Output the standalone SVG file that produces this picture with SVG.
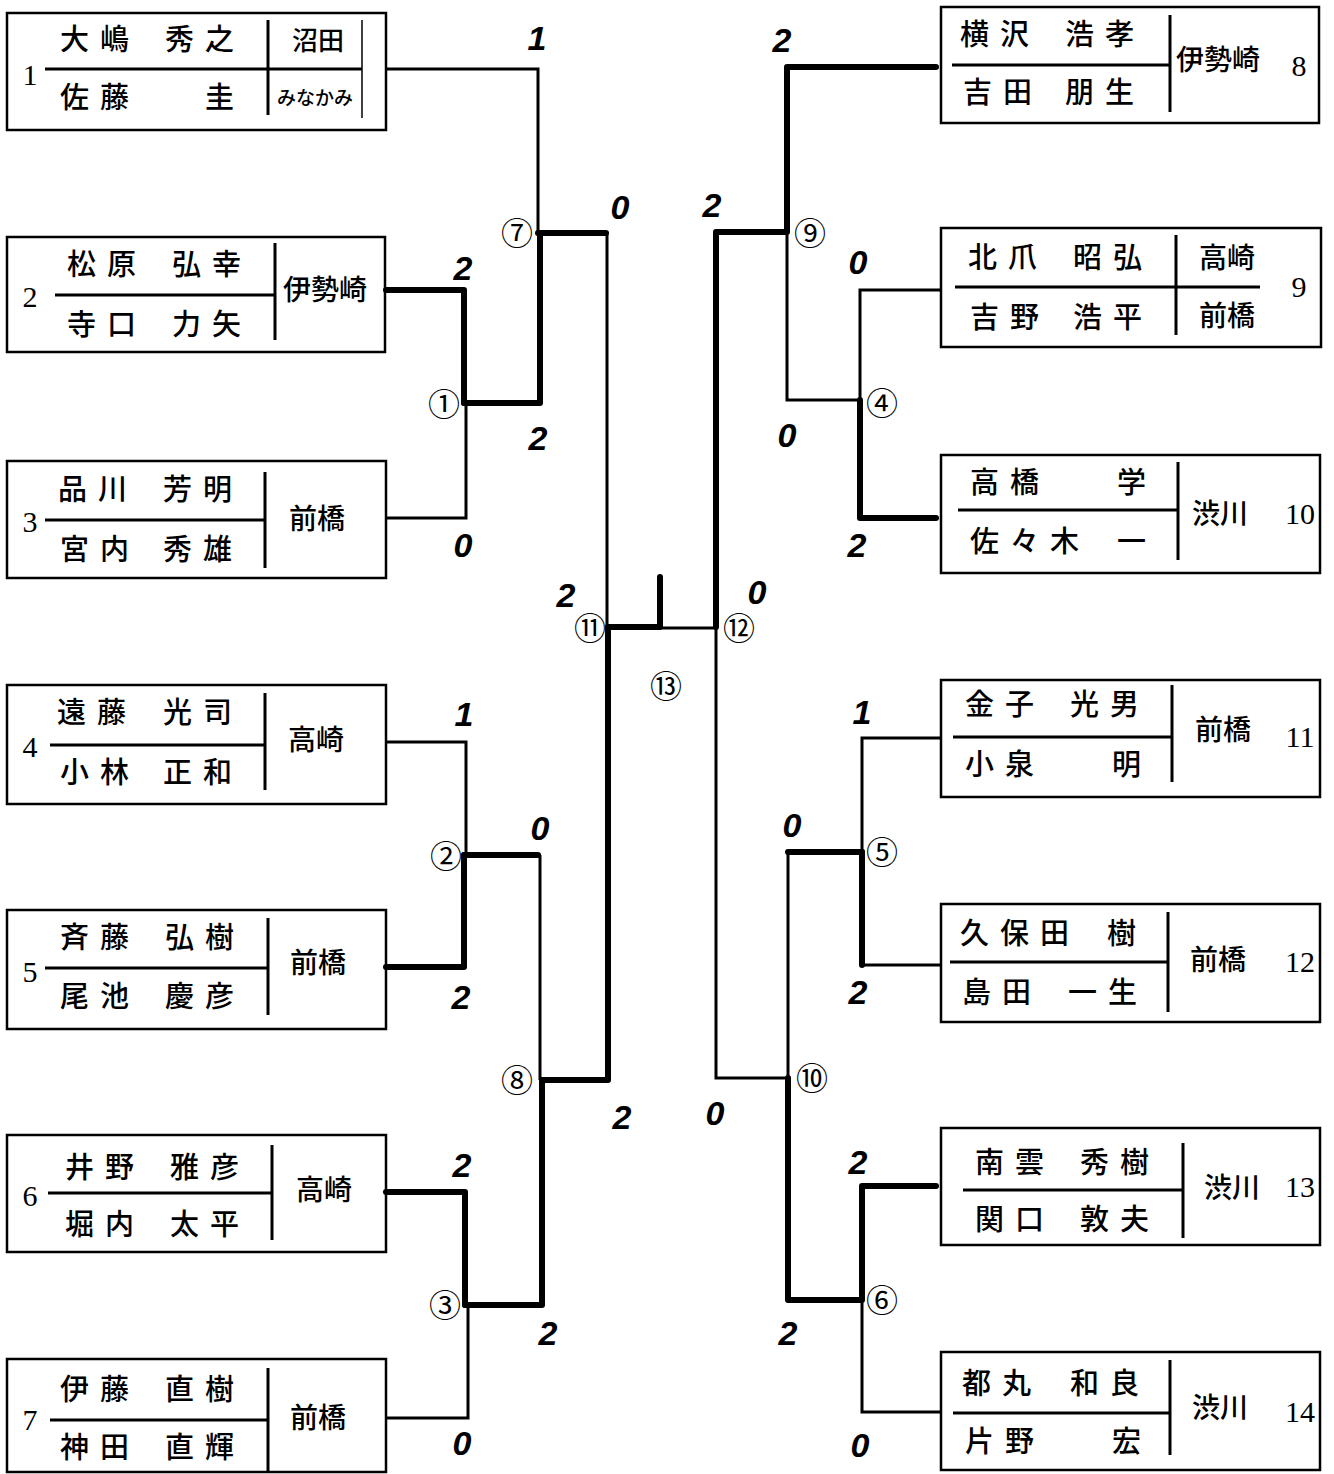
<svg xmlns="http://www.w3.org/2000/svg" width="1334" height="1474" viewBox="0 0 1334 1474">
<style>
.bx{fill:none;stroke:#000;stroke-width:2.5}
.dv{stroke:#000;stroke-width:3;fill:none}
.th{stroke:#000;stroke-width:3;fill:none}
.tk{stroke:#000;stroke-width:6;fill:none;stroke-linecap:round;stroke-linejoin:round}
.nm{font-family:"Noto Sans CJK JP","Noto Sans CJK SC",sans-serif;font-size:29px;font-weight:500;letter-spacing:11px}
.cl{font-family:"Noto Sans CJK JP","Noto Sans CJK SC",sans-serif;font-size:28px;font-weight:500;text-anchor:middle}
.no{font-family:"Liberation Serif",serif;font-size:30px;text-anchor:middle}
.sc{font-family:"Liberation Sans",sans-serif;font-weight:bold;font-style:italic;font-size:34px;text-anchor:middle}
.cn{font-family:"Noto Sans CJK JP","Noto Sans CJK SC",sans-serif;font-size:32px;text-anchor:middle}
</style>
<rect width="1334" height="1474" fill="#fff"/>

<g id="team1">
<rect class="bx" x="7" y="13" width="379" height="117"/>
<line class="dv" x1="45" y1="69" x2="362" y2="69"/>
<line class="dv" x1="268" y1="20" x2="268" y2="115"/>
<line x1="362" y1="20" x2="362" y2="118" stroke="#000" stroke-width="1.5"/>
<text class="no" x="30" y="85">1</text>
<text class="nm" x="60" y="50">大嶋</text><text class="nm" x="165" y="50">秀之</text>
<text class="nm" x="60" y="108">佐藤</text><text class="nm" x="205" y="108">圭</text>
<text class="cl" x="318" y="50" style="font-size:26px">沼田</text>
<text class="cl" x="315" y="105" style="font-size:19px">みなかみ</text>
</g>
<g id="team2">
<rect class="bx" x="7" y="237" width="378" height="115"/>
<line class="dv" x1="55" y1="295" x2="275" y2="295"/>
<line class="dv" x1="275" y1="243" x2="275" y2="340"/>
<text class="no" x="30" y="307">2</text>
<text class="nm" x="67" y="275">松原</text><text class="nm" x="172" y="275">弘幸</text>
<text class="nm" x="67" y="335">寺口</text><text class="nm" x="172" y="335">力矢</text>
<text class="cl" x="325" y="300">伊勢崎</text>
</g>
<g id="team3">
<rect class="bx" x="7" y="461" width="379" height="117"/>
<line class="dv" x1="45" y1="520" x2="265" y2="520"/>
<line class="dv" x1="265" y1="472" x2="265" y2="568"/>
<text class="no" x="30" y="532">3</text>
<text class="nm" x="58" y="500">品川</text><text class="nm" x="163" y="500">芳明</text>
<text class="nm" x="60" y="560">宮内</text><text class="nm" x="163" y="560">秀雄</text>
<text class="cl" x="317" y="529">前橋</text>
</g>
<g id="team4">
<rect class="bx" x="7" y="685" width="379" height="119"/>
<line class="dv" x1="50" y1="745" x2="265" y2="745"/>
<line class="dv" x1="265" y1="693" x2="265" y2="790"/>
<text class="no" x="30" y="757">4</text>
<text class="nm" x="57" y="723">遠藤</text><text class="nm" x="163" y="723">光司</text>
<text class="nm" x="60" y="783">小林</text><text class="nm" x="163" y="783">正和</text>
<text class="cl" x="316" y="750">高崎</text>
</g>
<g id="team5">
<rect class="bx" x="7" y="910" width="379" height="119"/>
<line class="dv" x1="45" y1="968" x2="268" y2="968"/>
<line class="dv" x1="268" y1="918" x2="268" y2="1015"/>
<text class="no" x="30" y="982">5</text>
<text class="nm" x="60" y="948">斉藤</text><text class="nm" x="165" y="948">弘樹</text>
<text class="nm" x="60" y="1007">尾池</text><text class="nm" x="165" y="1007">慶彦</text>
<text class="cl" x="318" y="973">前橋</text>
</g>
<g id="team6">
<rect class="bx" x="7" y="1135" width="379" height="117"/>
<line class="dv" x1="48" y1="1193" x2="272" y2="1193"/>
<line class="dv" x1="272" y1="1145" x2="272" y2="1240"/>
<text class="no" x="30" y="1206">6</text>
<text class="nm" x="65" y="1178">井野</text><text class="nm" x="170" y="1178">雅彦</text>
<text class="nm" x="65" y="1235">堀内</text><text class="nm" x="170" y="1235">太平</text>
<text class="cl" x="324" y="1200">高崎</text>
</g>
<g id="team7">
<rect class="bx" x="7" y="1359" width="379" height="113"/>
<line class="dv" x1="50" y1="1420" x2="268" y2="1420"/>
<line class="dv" x1="268" y1="1368" x2="268" y2="1472"/>
<text class="no" x="30" y="1430">7</text>
<text class="nm" x="60" y="1400">伊藤</text><text class="nm" x="165" y="1400">直樹</text>
<text class="nm" x="60" y="1458">神田</text><text class="nm" x="165" y="1458">直輝</text>
<text class="cl" x="318" y="1428">前橋</text>
</g>

<g id="team8">
<rect class="bx" x="941" y="7" width="378" height="116"/>
<line class="dv" x1="952" y1="65" x2="1170" y2="65"/>
<line class="dv" x1="1170" y1="15" x2="1170" y2="112"/>
<text class="no" x="1299" y="76">8</text>
<text class="nm" x="960" y="45">横沢</text><text class="nm" x="1065" y="45">浩孝</text>
<text class="nm" x="963" y="103">吉田</text><text class="nm" x="1065" y="103">朋生</text>
<text class="cl" x="1218" y="70">伊勢崎</text>
</g>
<g id="team9">
<rect class="bx" x="941" y="228" width="380" height="119"/>
<line class="dv" x1="955" y1="287" x2="1260" y2="287"/>
<line class="dv" x1="1176" y1="235" x2="1176" y2="335"/>
<text class="no" x="1299" y="297">9</text>
<text class="nm" x="968" y="268">北爪</text><text class="nm" x="1073" y="268">昭弘</text>
<text class="nm" x="970" y="328">吉野</text><text class="nm" x="1073" y="328">浩平</text>
<text class="cl" x="1227" y="268">高崎</text>
<text class="cl" x="1227" y="326">前橋</text>
</g>
<g id="team10">
<rect class="bx" x="941" y="455" width="379" height="118"/>
<line class="dv" x1="958" y1="510" x2="1178" y2="510"/>
<line class="dv" x1="1178" y1="462" x2="1178" y2="560"/>
<text class="no" x="1300" y="524">10</text>
<text class="nm" x="970" y="493">高橋</text><text class="nm" x="1117" y="493">学</text>
<text class="nm" x="970" y="552">佐々木</text><text class="nm" x="1117" y="552">一</text>
<text class="cl" x="1220" y="524">渋川</text>
</g>
<g id="team11">
<rect class="bx" x="941" y="680" width="379" height="117"/>
<line class="dv" x1="953" y1="737" x2="1172" y2="737"/>
<line class="dv" x1="1172" y1="685" x2="1172" y2="782"/>
<text class="no" x="1300" y="747">11</text>
<text class="nm" x="965" y="715">金子</text><text class="nm" x="1070" y="715">光男</text>
<text class="nm" x="965" y="775">小泉</text><text class="nm" x="1112" y="775">明</text>
<text class="cl" x="1223" y="740">前橋</text>
</g>
<g id="team12">
<rect class="bx" x="941" y="904" width="379" height="118"/>
<line class="dv" x1="950" y1="962" x2="1168" y2="962"/>
<line class="dv" x1="1168" y1="912" x2="1168" y2="1012"/>
<text class="no" x="1300" y="972">12</text>
<text class="nm" x="960" y="944">久保田</text><text class="nm" x="1107" y="944">樹</text>
<text class="nm" x="962" y="1003">島田</text><text class="nm" x="1068" y="1003">一生</text>
<text class="cl" x="1218" y="970">前橋</text>
</g>
<g id="team13">
<rect class="bx" x="941" y="1128" width="379" height="117"/>
<line class="dv" x1="963" y1="1190" x2="1183" y2="1190"/>
<line class="dv" x1="1183" y1="1143" x2="1183" y2="1238"/>
<text class="no" x="1300" y="1197">13</text>
<text class="nm" x="975" y="1173">南雲</text><text class="nm" x="1080" y="1173">秀樹</text>
<text class="nm" x="975" y="1230">関口</text><text class="nm" x="1080" y="1230">敦夫</text>
<text class="cl" x="1232" y="1198">渋川</text>
</g>
<g id="team14">
<rect class="bx" x="941" y="1352" width="379" height="118"/>
<line class="dv" x1="953" y1="1413" x2="1170" y2="1413"/>
<line class="dv" x1="1170" y1="1360" x2="1170" y2="1455"/>
<text class="no" x="1300" y="1422">14</text>
<text class="nm" x="962" y="1394">都丸</text><text class="nm" x="1070" y="1394">和良</text>
<text class="nm" x="965" y="1452">片野</text><text class="nm" x="1112" y="1452">宏</text>
<text class="cl" x="1220" y="1418">渋川</text>
</g>

<g id="connectors">
<polyline class="th" points="386,69 538,69 538,233"/>
<polyline class="tk" points="386,290 464,290 464,403"/>
<polyline class="th" points="386,518 466,518 466,403"/>
<polyline class="tk" points="464,403 540,403 540,233"/>
<polyline class="tk" points="538,233 606,233"/>
<polyline class="th" points="607,233 607,627"/>
<polyline class="th" points="386,742 466,742 466,855"/>
<polyline class="tk" points="386,967 464,967 464,855"/>
<polyline class="tk" points="464,855 538,855"/>
<polyline class="th" points="540,855 540,1080"/>
<polyline class="tk" points="386,1192 465,1192 465,1305"/>
<polyline class="th" points="386,1418 468,1418 468,1305"/>
<polyline class="tk" points="465,1305 542,1305 542,1080"/>
<polyline class="tk" points="542,1080 608,1080 608,627"/>
<polyline class="tk" points="608,627 660,627 660,577"/>
<polyline class="th" points="660,628 716,628"/>
<polyline class="tk" points="716,627 716,232 787,232 787,67 936,67"/>
<polyline class="th" points="787,232 787,400 860,400"/>
<polyline class="th" points="860,400 860,290 941,290"/>
<polyline class="tk" points="860,400 860,518 936,518"/>
<polyline class="th" points="716,627 716,1078 788,1078"/>
<polyline class="th" points="788,1078 788,852"/>
<polyline class="tk" points="788,852 862,852"/>
<polyline class="th" points="862,852 862,738 941,738"/>
<polyline class="tk" points="862,852 862,965"/>
<polyline class="th" points="862,965 941,965"/>
<polyline class="tk" points="788,1078 788,1300 862,1300 862,1186 936,1186"/>
<polyline class="th" points="862,1300 862,1412 941,1412"/>
</g>

<g id="labels">
<text class="cn" x="517" y="245">⑦</text>
<text class="cn" x="444" y="416">①</text>
<text class="cn" x="446" y="868">②</text>
<text class="cn" x="445" y="1317">③</text>
<text class="cn" x="517" y="1092">⑧</text>
<text class="cn" x="590" y="640">⑪</text>
<text class="cn" x="739" y="640">⑫</text>
<text class="cn" x="666" y="698">⑬</text>
<text class="cn" x="810" y="245">⑨</text>
<text class="cn" x="882" y="415">④</text>
<text class="cn" x="812" y="1090">⑩</text>
<text class="cn" x="882" y="864">⑤</text>
<text class="cn" x="882" y="1312">⑥</text>

<text class="sc" x="537" y="50">1</text>
<text class="sc" x="620" y="219">0</text>
<text class="sc" x="463" y="280">2</text>
<text class="sc" x="538" y="450">2</text>
<text class="sc" x="463" y="557">0</text>
<text class="sc" x="464" y="726">1</text>
<text class="sc" x="540" y="840">0</text>
<text class="sc" x="461" y="1009">2</text>
<text class="sc" x="462" y="1177">2</text>
<text class="sc" x="548" y="1345">2</text>
<text class="sc" x="462" y="1455">0</text>
<text class="sc" x="622" y="1129">2</text>
<text class="sc" x="566" y="607">2</text>
<text class="sc" x="757" y="604">0</text>
<text class="sc" x="712" y="217">2</text>
<text class="sc" x="782" y="52">2</text>
<text class="sc" x="858" y="274">0</text>
<text class="sc" x="787" y="447">0</text>
<text class="sc" x="857" y="557">2</text>
<text class="sc" x="862" y="724">1</text>
<text class="sc" x="792" y="837">0</text>
<text class="sc" x="858" y="1004">2</text>
<text class="sc" x="715" y="1125">0</text>
<text class="sc" x="858" y="1174">2</text>
<text class="sc" x="788" y="1345">2</text>
<text class="sc" x="860" y="1457">0</text>
</g>
</svg>
